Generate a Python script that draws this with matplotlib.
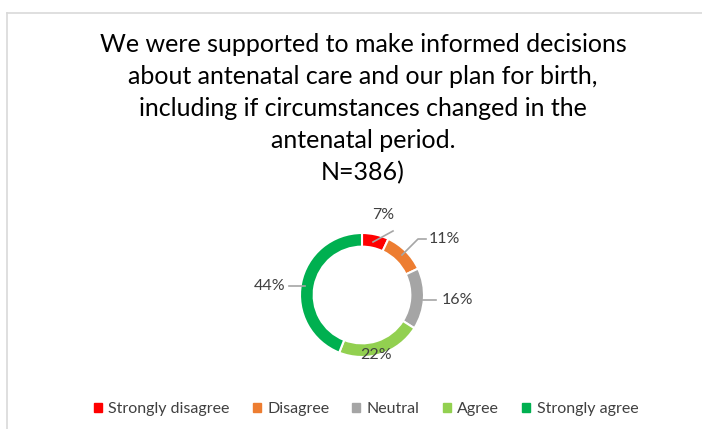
import matplotlib.pyplot as plt
import numpy as np

# Survey responses (percent of N=386)
categories = ["Strongly disagree", "Disagree", "Neutral", "Agree", "Strongly agree"]
shares = [7, 11, 16, 22, 44]
colors = ["#FF0000", "#ED7D31", "#A5A5A5", "#92D050", "#00B050"]

title = ("We were supported to make informed decisions\n"
         "about antenatal care and our plan for birth,\n"
         "including if circumstances changed in the\n"
         "antenatal period.\n"
         "N=386)")

plt.rcParams['font.family'] = ['Lato', 'DejaVu Sans']

W, H = 702, 429
fig = plt.figure(figsize=(W / 100, H / 100), dpi=100)
ax = fig.add_axes([0, 0, 1, 1])

# doughnut in pixel coordinates (y measured up from the bottom)
cx, cy, r = 362, H - 295, 62
wedges, _ = ax.pie(shares, colors=colors, startangle=90, counterclock=False,
                   center=(cx, cy), radius=r, frame=True,
                   wedgeprops=dict(width=r * 0.22, edgecolor="white", linewidth=1.5))
ax.set_xlim(0, W)
ax.set_ylim(0, H)
ax.set_aspect("equal")
ax.axis("off")

# chart border (top and left edges show)
ax.plot([7, W], [H - 13, H - 13], color="#D9D9D9", lw=1.2, clip_on=False)
ax.plot([7, 7], [H - 13, 0], color="#D9D9D9", lw=1.2, clip_on=False)

ax.text(363, H - 33, title, ha="center", va="top", fontsize=18,
        color="#000000", linespacing=1.47)

# data labels and leader lines
label_pos = [(383, 215), (444, 239), (457, 300), (376, 355), (270, 286)]
leaders = [
    [(373, 242), (393, 231)],
    [(402, 255), (418, 239), (426, 239)],
    [(423, 300), (436, 300)],
    None,
    [(289, 286), (305, 286)],
]
for val, (lx, ly), ld in zip(shares, label_pos, leaders):
    if ld is not None:
        xs, ys = zip(*ld)
        ax.plot(xs, [H - y for y in ys], color="#A6A6A6", lw=1.2)
    ax.text(lx, H - ly, f"{val}%", ha="center", va="center", fontsize=11.5,
            color="#404040")

handles = [plt.Rectangle((0, 0), 1, 1, color=c) for c in colors]
fig.legend(handles, categories, loc="center", bbox_to_anchor=(366 / W, 1 - 409 / H),
           ncol=5, frameon=False, fontsize=11.5, handlelength=0.5, handleheight=0.5,
           handletextpad=0.4, columnspacing=1.45, labelcolor="#404040")

fig.savefig("out.png", dpi=100)
